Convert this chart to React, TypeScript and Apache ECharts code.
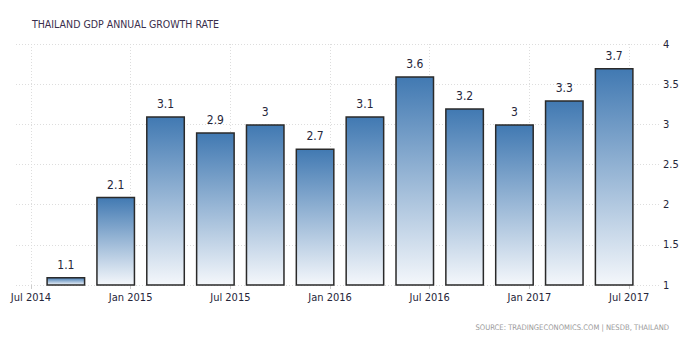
import React, { useEffect, useRef } from "react";
import * as echarts from "echarts";

const quarters = ["Q3 2014", "Q4 2014", "Q1 2015", "Q2 2015", "Q3 2015", "Q4 2015", "Q1 2016", "Q2 2016", "Q3 2016", "Q4 2016", "Q1 2017", "Q2 2017"];
const growth = [1.1, 2.1, 3.1, 2.9, 3.0, 2.7, 3.1, 3.6, 3.2, 3.0, 3.3, 3.7];
const tickLabels = ["Jul 2014", "Jan 2015", "Jul 2015", "Jan 2016", "Jul 2016", "Jan 2017", "Jul 2017"];
// tick positions in quarter units, Jul 2014 = 0
const tickPositions = [0, 2, 4, 6, 8, 10, 12];
const barOffset = 0.7;

const FONT = "DejaVu Sans Condensed";

export default function App() {
  const ref = useRef<HTMLDivElement>(null);
  useEffect(() => {
    if (!ref.current) return;
    const chart = echarts.init(ref.current, null, { renderer: "svg" });
    const data = growth.map((v, i) => [i + barOffset, v]);
    chart.setOption({
      animation: false,
      textStyle: { fontFamily: FONT },
      title: {
        text: "THAILAND GDP ANNUAL GROWTH RATE",
        left: 27,
        top: 13,
        textStyle: { fontSize: 10.5, fontWeight: "normal", color: "#3a2e4c", fontFamily: FONT },
      },
      graphic: [
        {
          type: "text",
          right: 27,
          top: 323,
          style: {
            text: "SOURCE: TRADINGECONOMICS.COM | NESDB, THAILAND",
            fill: "#999999",
            font: "7.6px '" + FONT + "'",
          },
        },
      ],
      grid: { left: 16, right: 36, top: 44, bottom: 52 },
      xAxis: {
        type: "value",
        min: -0.3,
        max: 12.62,
        axisLine: { show: false },
        axisTick: {
          show: true,
          length: 4,
          customValues: tickPositions,
          lineStyle: { color: "#cccccc" },
        },
        axisLabel: {
          customValues: tickPositions,
          formatter: (v: number) => tickLabels[tickPositions.indexOf(Math.round(v))] || "",
          color: "#26263a",
          fontSize: 11,
          margin: 7,
          fontFamily: FONT,
        },
        splitLine: { show: true, lineStyle: { color: "#dddddd", type: [1, 2] } },
      },
      yAxis: {
        type: "value",
        position: "right",
        min: 1,
        max: 4,
        interval: 0.5,
        axisLine: { show: false },
        axisTick: { show: false },
        axisLabel: { color: "#26263a", fontSize: 11, margin: 3, fontFamily: FONT },
        splitLine: { show: true, lineStyle: { color: "#dddddd", type: [1, 2] } },
      },
      series: [
        {
          type: "bar",
          name: "GDP Annual Growth Rate",
          data,
          barWidth: 39,
          itemStyle: {
            color: new echarts.graphic.LinearGradient(0, 0, 0, 1, [
              { offset: 0, color: "#4179b2" },
              { offset: 1, color: "#f4f7fb" },
            ]),
            borderColor: "#2a2a2a",
            borderWidth: 1.5,
          },
          label: {
            show: true,
            position: "top",
            distance: 6,
            color: "#26263a",
            fontSize: 12,
            fontFamily: FONT,
            formatter: (p: any) => String(p.value[1]),
          },
        },
      ],
    });
    return () => chart.dispose();
  }, []);
  return <div ref={ref} style={{ width: 696, height: 337, position: "absolute", left: 0, top: 0 }} />;
}
